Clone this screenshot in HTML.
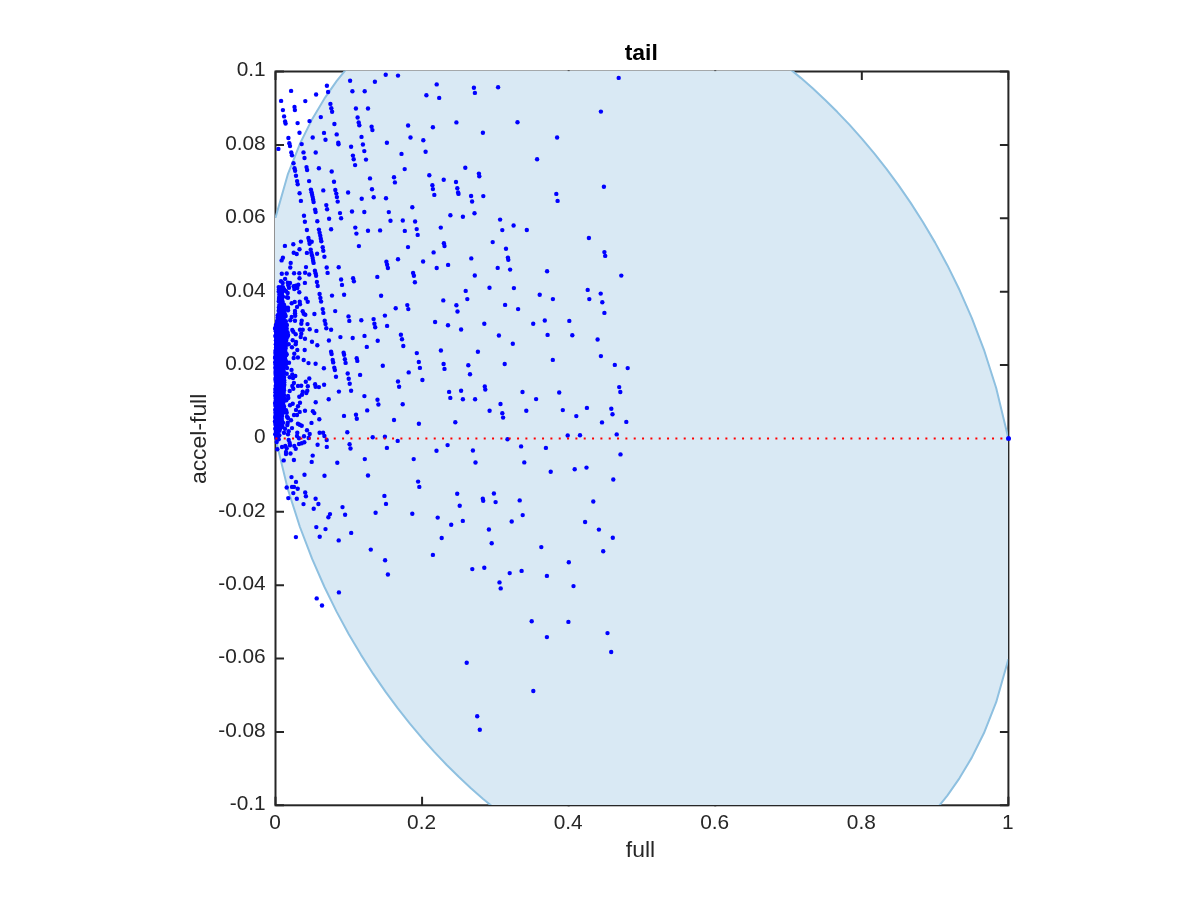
<!DOCTYPE html>
<html><head><meta charset="utf-8"><title>tail</title>
<style>
html,body{margin:0;padding:0;background:#fff;}
body{width:1200px;height:900px;overflow:hidden;}
svg{display:block;}
text{font-family:"Liberation Sans",sans-serif;fill:#262626;}
.tk{font-size:20.83px;}
.lb{font-size:22.92px;}
.tt{font-size:22.92px;font-weight:bold;fill:#000;}
</style></head><body>
<svg width="1200" height="900" viewBox="0 0 1200 900">
<defs><clipPath id="ax"><rect x="275.0" y="70.7" width="733.1" height="734.3"/></clipPath></defs>
<rect x="0" y="0" width="1200" height="900" fill="#ffffff"/>

<g stroke="#262626" stroke-width="2" fill="none">
<rect x="275.5" y="71.5" width="732.90" height="733.80"/>
<path d="M275.50 805.3 v-8.5 M275.50 71.5 v8.5"/>
<path d="M422.08 805.3 v-8.5 M422.08 71.5 v8.5"/>
<path d="M568.66 805.3 v-8.5 M568.66 71.5 v8.5"/>
<path d="M715.24 805.3 v-8.5 M715.24 71.5 v8.5"/>
<path d="M861.82 805.3 v-8.5 M861.82 71.5 v8.5"/>
<path d="M1008.40 805.3 v-8.5 M1008.40 71.5 v8.5"/>
<path d="M275.5 71.50 h8.5 M1008.4 71.50 h-8.5"/>
<path d="M275.5 144.88 h8.5 M1008.4 144.88 h-8.5"/>
<path d="M275.5 218.26 h8.5 M1008.4 218.26 h-8.5"/>
<path d="M275.5 291.64 h8.5 M1008.4 291.64 h-8.5"/>
<path d="M275.5 365.02 h8.5 M1008.4 365.02 h-8.5"/>
<path d="M275.5 438.40 h8.5 M1008.4 438.40 h-8.5"/>
<path d="M275.5 511.78 h8.5 M1008.4 511.78 h-8.5"/>
<path d="M275.5 585.16 h8.5 M1008.4 585.16 h-8.5"/>
<path d="M275.5 658.54 h8.5 M1008.4 658.54 h-8.5"/>
<path d="M275.5 731.92 h8.5 M1008.4 731.92 h-8.5"/>
<path d="M275.5 805.30 h8.5 M1008.4 805.30 h-8.5"/>
</g>
<g clip-path="url(#ax)">
<polygon points="275.00,217.62 275.50,217.62 287.71,174.65 299.93,143.76 312.14,119.17 324.36,98.69 336.57,81.19 348.79,66.01 361.00,52.70 373.22,40.97 385.44,30.60 397.65,21.41 409.87,13.29 422.08,6.12 434.29,-0.18 446.51,-5.67 458.73,-10.40 470.94,-14.44 483.15,-17.81 495.37,-20.55 507.58,-22.70 519.80,-24.26 532.01,-25.27 544.23,-25.75 556.44,-25.70 568.66,-25.15 580.88,-24.10 593.09,-22.55 605.31,-20.53 617.52,-18.03 629.74,-15.05 641.95,-11.61 654.16,-7.70 666.38,-3.31 678.60,1.55 690.81,6.88 703.03,12.70 715.24,19.01 727.45,25.81 739.67,33.12 751.88,40.96 764.10,49.33 776.32,58.26 788.53,67.76 800.75,77.86 812.96,88.59 825.17,99.99 837.39,112.08 849.61,124.93 861.82,138.58 874.03,153.11 886.25,168.60 898.46,185.14 910.68,202.88 922.89,221.96 935.11,242.63 947.32,265.17 959.54,290.03 971.75,317.87 983.97,349.81 996.18,388.07 1008.40,438.40 1008.10,438.40 1008.10,659.18 1008.40,659.18 996.18,702.15 983.97,733.04 971.75,757.63 959.54,778.11 947.32,795.61 935.11,810.79 922.89,824.10 910.68,835.83 898.46,846.20 886.25,855.39 874.03,863.51 861.82,870.68 849.61,876.98 837.39,882.47 825.17,887.20 812.96,891.24 800.75,894.61 788.53,897.35 776.32,899.50 764.10,901.06 751.88,902.07 739.67,902.55 727.45,902.50 715.24,901.95 703.03,900.90 690.81,899.35 678.60,897.33 666.38,894.83 654.16,891.85 641.95,888.41 629.74,884.50 617.52,880.11 605.31,875.25 593.09,869.92 580.88,864.10 568.66,857.79 556.44,850.99 544.23,843.68 532.01,835.84 519.80,827.47 507.58,818.54 495.37,809.04 483.15,798.94 470.94,788.21 458.73,776.81 446.51,764.72 434.29,751.87 422.08,738.22 409.87,723.69 397.65,708.20 385.44,691.66 373.22,673.92 361.00,654.84 348.79,634.17 336.57,611.63 324.36,586.77 312.14,558.93 299.93,526.99 287.71,488.73 275.50,438.40 275.00,438.40" fill="#d9e9f4"/>
<polyline points="275.50,217.62 287.71,174.65 299.93,143.76 312.14,119.17 324.36,98.69 336.57,81.19 348.79,66.01 361.00,52.70 373.22,40.97 385.44,30.60 397.65,21.41 409.87,13.29 422.08,6.12 434.29,-0.18 446.51,-5.67 458.73,-10.40 470.94,-14.44 483.15,-17.81 495.37,-20.55 507.58,-22.70 519.80,-24.26 532.01,-25.27 544.23,-25.75 556.44,-25.70 568.66,-25.15 580.88,-24.10 593.09,-22.55 605.31,-20.53 617.52,-18.03 629.74,-15.05 641.95,-11.61 654.16,-7.70 666.38,-3.31 678.60,1.55 690.81,6.88 703.03,12.70 715.24,19.01 727.45,25.81 739.67,33.12 751.88,40.96 764.10,49.33 776.32,58.26 788.53,67.76 800.75,77.86 812.96,88.59 825.17,99.99 837.39,112.08 849.61,124.93 861.82,138.58 874.03,153.11 886.25,168.60 898.46,185.14 910.68,202.88 922.89,221.96 935.11,242.63 947.32,265.17 959.54,290.03 971.75,317.87 983.97,349.81 996.18,388.07 1008.40,438.40" fill="none" stroke="#8ec0e0" stroke-width="2" stroke-linejoin="round"/>
<polyline points="275.50,438.40 287.71,488.73 299.93,526.99 312.14,558.93 324.36,586.77 336.57,611.63 348.79,634.17 361.00,654.84 373.22,673.92 385.44,691.66 397.65,708.20 409.87,723.69 422.08,738.22 434.29,751.87 446.51,764.72 458.73,776.81 470.94,788.21 483.15,798.94 495.37,809.04 507.58,818.54 519.80,827.47 532.01,835.84 544.23,843.68 556.44,850.99 568.66,857.79 580.88,864.10 593.09,869.92 605.31,875.25 617.52,880.11 629.74,884.50 641.95,888.41 654.16,891.85 666.38,894.83 678.60,897.33 690.81,899.35 703.03,900.90 715.24,901.95 727.45,902.50 739.67,902.55 751.88,902.07 764.10,901.06 776.32,899.50 788.53,897.35 800.75,894.61 812.96,891.24 825.17,887.20 837.39,882.47 849.61,876.98 861.82,870.68 874.03,863.51 886.25,855.39 898.46,846.20 910.68,835.83 922.89,824.10 935.11,810.79 947.32,795.61 959.54,778.11 971.75,757.63 983.97,733.04 996.18,702.15 1008.40,659.18" fill="none" stroke="#8ec0e0" stroke-width="2" stroke-linejoin="round"/>
</g>
<rect x="567.66" y="70.4" width="2" height="0.7" fill="#262626"/>
<rect x="567.66" y="805.1" width="2" height="1.2" fill="#262626"/>
<rect x="714.24" y="70.4" width="2" height="0.7" fill="#262626"/>
<rect x="714.24" y="805.1" width="2" height="1.2" fill="#262626"/>
<g fill="#0000ff">
<circle cx="385.7" cy="74.7" r="2.2"/>
<circle cx="398.0" cy="75.6" r="2.2"/>
<circle cx="350.1" cy="80.7" r="2.2"/>
<circle cx="374.9" cy="81.7" r="2.2"/>
<circle cx="326.9" cy="85.7" r="2.2"/>
<circle cx="291.1" cy="90.9" r="2.2"/>
<circle cx="328.1" cy="92.0" r="2.2"/>
<circle cx="352.4" cy="91.3" r="2.2"/>
<circle cx="364.7" cy="91.3" r="2.2"/>
<circle cx="316.1" cy="94.5" r="2.2"/>
<circle cx="426.4" cy="95.3" r="2.2"/>
<circle cx="281.1" cy="100.9" r="2.2"/>
<circle cx="305.3" cy="101.1" r="2.2"/>
<circle cx="330.4" cy="103.9" r="2.2"/>
<circle cx="294.5" cy="106.9" r="2.2"/>
<circle cx="282.9" cy="110.1" r="2.2"/>
<circle cx="294.9" cy="110.1" r="2.2"/>
<circle cx="331.3" cy="108.3" r="2.2"/>
<circle cx="332.1" cy="111.7" r="2.2"/>
<circle cx="355.9" cy="108.5" r="2.2"/>
<circle cx="368.0" cy="108.5" r="2.2"/>
<circle cx="284.1" cy="116.4" r="2.2"/>
<circle cx="320.8" cy="117.1" r="2.2"/>
<circle cx="357.6" cy="117.5" r="2.2"/>
<circle cx="285.1" cy="121.5" r="2.2"/>
<circle cx="285.6" cy="123.6" r="2.2"/>
<circle cx="297.6" cy="123.1" r="2.2"/>
<circle cx="309.5" cy="121.1" r="2.2"/>
<circle cx="334.4" cy="124.0" r="2.2"/>
<circle cx="358.7" cy="122.4" r="2.2"/>
<circle cx="359.3" cy="125.3" r="2.2"/>
<circle cx="371.6" cy="126.7" r="2.2"/>
<circle cx="372.4" cy="130.1" r="2.2"/>
<circle cx="408.1" cy="125.5" r="2.2"/>
<circle cx="299.5" cy="132.7" r="2.2"/>
<circle cx="324.0" cy="132.9" r="2.2"/>
<circle cx="336.7" cy="134.4" r="2.2"/>
<circle cx="288.4" cy="138.0" r="2.2"/>
<circle cx="312.7" cy="137.5" r="2.2"/>
<circle cx="325.5" cy="139.7" r="2.2"/>
<circle cx="361.5" cy="136.9" r="2.2"/>
<circle cx="410.5" cy="137.5" r="2.2"/>
<circle cx="423.3" cy="140.3" r="2.2"/>
<circle cx="289.3" cy="143.3" r="2.2"/>
<circle cx="290.0" cy="146.0" r="2.2"/>
<circle cx="301.7" cy="144.1" r="2.2"/>
<circle cx="338.3" cy="142.7" r="2.2"/>
<circle cx="338.5" cy="144.3" r="2.2"/>
<circle cx="386.9" cy="142.7" r="2.2"/>
<circle cx="362.9" cy="144.5" r="2.2"/>
<circle cx="351.1" cy="146.7" r="2.2"/>
<circle cx="278.4" cy="148.9" r="2.2"/>
<circle cx="291.3" cy="152.4" r="2.2"/>
<circle cx="292.0" cy="155.3" r="2.2"/>
<circle cx="303.5" cy="152.4" r="2.2"/>
<circle cx="315.7" cy="152.5" r="2.2"/>
<circle cx="364.3" cy="151.1" r="2.2"/>
<circle cx="425.6" cy="151.7" r="2.2"/>
<circle cx="401.5" cy="153.9" r="2.2"/>
<circle cx="304.5" cy="158.0" r="2.2"/>
<circle cx="352.9" cy="155.6" r="2.2"/>
<circle cx="353.7" cy="159.3" r="2.2"/>
<circle cx="366.0" cy="159.6" r="2.2"/>
<circle cx="293.5" cy="163.3" r="2.2"/>
<circle cx="355.1" cy="165.1" r="2.2"/>
<circle cx="294.5" cy="168.3" r="2.2"/>
<circle cx="295.1" cy="170.7" r="2.2"/>
<circle cx="306.5" cy="167.1" r="2.2"/>
<circle cx="307.1" cy="170.0" r="2.2"/>
<circle cx="318.9" cy="168.3" r="2.2"/>
<circle cx="331.7" cy="171.5" r="2.2"/>
<circle cx="404.7" cy="169.1" r="2.2"/>
<circle cx="296.0" cy="175.7" r="2.2"/>
<circle cx="394.0" cy="177.2" r="2.2"/>
<circle cx="370.0" cy="178.4" r="2.2"/>
<circle cx="429.3" cy="175.3" r="2.2"/>
<circle cx="436.7" cy="84.4" r="2.2"/>
<circle cx="473.9" cy="87.7" r="2.2"/>
<circle cx="498.1" cy="87.3" r="2.2"/>
<circle cx="474.9" cy="92.9" r="2.2"/>
<circle cx="439.2" cy="97.9" r="2.2"/>
<circle cx="456.4" cy="122.4" r="2.2"/>
<circle cx="517.5" cy="122.3" r="2.2"/>
<circle cx="432.9" cy="127.3" r="2.2"/>
<circle cx="482.9" cy="132.7" r="2.2"/>
<circle cx="557.1" cy="137.5" r="2.2"/>
<circle cx="537.1" cy="159.3" r="2.2"/>
<circle cx="465.3" cy="167.7" r="2.2"/>
<circle cx="478.9" cy="173.6" r="2.2"/>
<circle cx="479.3" cy="176.3" r="2.2"/>
<circle cx="443.7" cy="179.7" r="2.2"/>
<circle cx="618.7" cy="77.9" r="2.2"/>
<circle cx="600.9" cy="111.6" r="2.2"/>
<circle cx="297.1" cy="181.1" r="2.2"/>
<circle cx="297.7" cy="184.3" r="2.2"/>
<circle cx="309.1" cy="181.1" r="2.2"/>
<circle cx="334.0" cy="181.7" r="2.2"/>
<circle cx="394.9" cy="182.4" r="2.2"/>
<circle cx="310.9" cy="189.6" r="2.2"/>
<circle cx="311.6" cy="192.3" r="2.2"/>
<circle cx="312.1" cy="194.7" r="2.2"/>
<circle cx="312.7" cy="197.1" r="2.2"/>
<circle cx="313.1" cy="199.5" r="2.2"/>
<circle cx="313.6" cy="202.0" r="2.2"/>
<circle cx="323.3" cy="190.4" r="2.2"/>
<circle cx="335.3" cy="190.0" r="2.2"/>
<circle cx="336.3" cy="193.6" r="2.2"/>
<circle cx="336.9" cy="197.1" r="2.2"/>
<circle cx="337.7" cy="201.6" r="2.2"/>
<circle cx="348.1" cy="192.5" r="2.2"/>
<circle cx="372.0" cy="189.3" r="2.2"/>
<circle cx="299.6" cy="193.3" r="2.2"/>
<circle cx="300.9" cy="200.9" r="2.2"/>
<circle cx="361.7" cy="198.7" r="2.2"/>
<circle cx="373.7" cy="197.3" r="2.2"/>
<circle cx="386.0" cy="198.3" r="2.2"/>
<circle cx="326.3" cy="205.1" r="2.2"/>
<circle cx="327.1" cy="209.3" r="2.2"/>
<circle cx="315.1" cy="209.6" r="2.2"/>
<circle cx="315.6" cy="212.0" r="2.2"/>
<circle cx="412.3" cy="207.3" r="2.2"/>
<circle cx="352.0" cy="211.5" r="2.2"/>
<circle cx="364.3" cy="212.0" r="2.2"/>
<circle cx="388.8" cy="212.1" r="2.2"/>
<circle cx="340.0" cy="213.1" r="2.2"/>
<circle cx="341.1" cy="218.3" r="2.2"/>
<circle cx="329.1" cy="218.7" r="2.2"/>
<circle cx="304.0" cy="215.7" r="2.2"/>
<circle cx="304.9" cy="221.7" r="2.2"/>
<circle cx="317.3" cy="221.2" r="2.2"/>
<circle cx="390.5" cy="220.7" r="2.2"/>
<circle cx="402.8" cy="220.5" r="2.2"/>
<circle cx="415.1" cy="221.5" r="2.2"/>
<circle cx="306.9" cy="230.0" r="2.2"/>
<circle cx="318.9" cy="229.6" r="2.2"/>
<circle cx="319.6" cy="232.7" r="2.2"/>
<circle cx="320.3" cy="235.7" r="2.2"/>
<circle cx="320.8" cy="238.7" r="2.2"/>
<circle cx="321.3" cy="241.3" r="2.2"/>
<circle cx="331.1" cy="229.3" r="2.2"/>
<circle cx="355.3" cy="227.6" r="2.2"/>
<circle cx="356.4" cy="233.6" r="2.2"/>
<circle cx="368.0" cy="230.7" r="2.2"/>
<circle cx="380.1" cy="230.4" r="2.2"/>
<circle cx="404.8" cy="230.9" r="2.2"/>
<circle cx="416.7" cy="229.1" r="2.2"/>
<circle cx="417.7" cy="234.9" r="2.2"/>
<circle cx="308.4" cy="238.0" r="2.2"/>
<circle cx="309.1" cy="240.7" r="2.2"/>
<circle cx="311.7" cy="241.7" r="2.2"/>
<circle cx="309.6" cy="243.7" r="2.2"/>
<circle cx="300.9" cy="241.6" r="2.2"/>
<circle cx="293.3" cy="244.3" r="2.2"/>
<circle cx="284.9" cy="245.9" r="2.2"/>
<circle cx="358.9" cy="246.1" r="2.2"/>
<circle cx="408.0" cy="247.1" r="2.2"/>
<circle cx="322.7" cy="247.3" r="2.2"/>
<circle cx="323.3" cy="250.7" r="2.2"/>
<circle cx="299.5" cy="249.3" r="2.2"/>
<circle cx="293.7" cy="252.7" r="2.2"/>
<circle cx="296.7" cy="254.0" r="2.2"/>
<circle cx="306.9" cy="252.9" r="2.2"/>
<circle cx="317.1" cy="253.7" r="2.2"/>
<circle cx="324.4" cy="256.7" r="2.2"/>
<circle cx="310.7" cy="249.6" r="2.2"/>
<circle cx="311.3" cy="252.7" r="2.2"/>
<circle cx="312.0" cy="255.3" r="2.2"/>
<circle cx="312.7" cy="258.0" r="2.2"/>
<circle cx="313.1" cy="260.7" r="2.2"/>
<circle cx="313.6" cy="262.9" r="2.2"/>
<circle cx="282.9" cy="257.7" r="2.2"/>
<circle cx="281.6" cy="260.4" r="2.2"/>
<circle cx="290.7" cy="262.9" r="2.2"/>
<circle cx="290.3" cy="267.5" r="2.2"/>
<circle cx="306.0" cy="267.1" r="2.2"/>
<circle cx="326.7" cy="267.5" r="2.2"/>
<circle cx="338.7" cy="267.3" r="2.2"/>
<circle cx="398.0" cy="259.3" r="2.2"/>
<circle cx="423.1" cy="261.5" r="2.2"/>
<circle cx="386.4" cy="261.7" r="2.2"/>
<circle cx="387.1" cy="264.7" r="2.2"/>
<circle cx="387.9" cy="268.0" r="2.2"/>
<circle cx="413.1" cy="272.9" r="2.2"/>
<circle cx="413.9" cy="275.7" r="2.2"/>
<circle cx="377.3" cy="276.9" r="2.2"/>
<circle cx="353.1" cy="278.3" r="2.2"/>
<circle cx="353.9" cy="281.3" r="2.2"/>
<circle cx="414.9" cy="282.3" r="2.2"/>
<circle cx="381.1" cy="295.7" r="2.2"/>
<circle cx="456.0" cy="182.0" r="2.2"/>
<circle cx="432.4" cy="185.3" r="2.2"/>
<circle cx="432.9" cy="189.1" r="2.2"/>
<circle cx="434.3" cy="194.9" r="2.2"/>
<circle cx="457.3" cy="188.3" r="2.2"/>
<circle cx="458.1" cy="192.5" r="2.2"/>
<circle cx="458.5" cy="193.9" r="2.2"/>
<circle cx="471.1" cy="196.0" r="2.2"/>
<circle cx="483.3" cy="196.1" r="2.2"/>
<circle cx="472.1" cy="201.5" r="2.2"/>
<circle cx="556.3" cy="193.9" r="2.2"/>
<circle cx="557.6" cy="200.9" r="2.2"/>
<circle cx="450.4" cy="215.3" r="2.2"/>
<circle cx="462.9" cy="216.7" r="2.2"/>
<circle cx="474.5" cy="213.3" r="2.2"/>
<circle cx="500.1" cy="219.6" r="2.2"/>
<circle cx="513.6" cy="225.5" r="2.2"/>
<circle cx="440.8" cy="227.6" r="2.2"/>
<circle cx="502.3" cy="230.1" r="2.2"/>
<circle cx="526.8" cy="230.0" r="2.2"/>
<circle cx="588.9" cy="238.0" r="2.2"/>
<circle cx="492.7" cy="242.1" r="2.2"/>
<circle cx="443.9" cy="243.3" r="2.2"/>
<circle cx="444.5" cy="246.0" r="2.2"/>
<circle cx="506.0" cy="248.8" r="2.2"/>
<circle cx="433.6" cy="252.4" r="2.2"/>
<circle cx="471.3" cy="258.4" r="2.2"/>
<circle cx="507.9" cy="257.6" r="2.2"/>
<circle cx="508.3" cy="259.7" r="2.2"/>
<circle cx="448.1" cy="264.9" r="2.2"/>
<circle cx="436.7" cy="268.0" r="2.2"/>
<circle cx="497.7" cy="267.9" r="2.2"/>
<circle cx="510.1" cy="269.6" r="2.2"/>
<circle cx="547.1" cy="271.2" r="2.2"/>
<circle cx="474.8" cy="275.5" r="2.2"/>
<circle cx="489.5" cy="287.7" r="2.2"/>
<circle cx="513.9" cy="288.1" r="2.2"/>
<circle cx="465.7" cy="290.9" r="2.2"/>
<circle cx="587.7" cy="289.9" r="2.2"/>
<circle cx="539.7" cy="294.8" r="2.2"/>
<circle cx="443.3" cy="300.4" r="2.2"/>
<circle cx="467.3" cy="299.1" r="2.2"/>
<circle cx="552.9" cy="299.1" r="2.2"/>
<circle cx="589.3" cy="299.1" r="2.2"/>
<circle cx="603.9" cy="186.7" r="2.2"/>
<circle cx="604.4" cy="252.1" r="2.2"/>
<circle cx="605.2" cy="255.9" r="2.2"/>
<circle cx="621.3" cy="275.6" r="2.2"/>
<circle cx="600.7" cy="293.6" r="2.2"/>
<circle cx="456.4" cy="305.3" r="2.2"/>
<circle cx="457.5" cy="311.5" r="2.2"/>
<circle cx="505.1" cy="304.9" r="2.2"/>
<circle cx="518.1" cy="309.1" r="2.2"/>
<circle cx="435.1" cy="322.0" r="2.2"/>
<circle cx="448.0" cy="325.2" r="2.2"/>
<circle cx="461.1" cy="329.5" r="2.2"/>
<circle cx="484.3" cy="323.7" r="2.2"/>
<circle cx="533.2" cy="323.7" r="2.2"/>
<circle cx="544.8" cy="320.5" r="2.2"/>
<circle cx="569.3" cy="320.9" r="2.2"/>
<circle cx="498.9" cy="335.5" r="2.2"/>
<circle cx="547.6" cy="334.9" r="2.2"/>
<circle cx="572.3" cy="335.2" r="2.2"/>
<circle cx="512.8" cy="343.7" r="2.2"/>
<circle cx="440.9" cy="350.5" r="2.2"/>
<circle cx="477.9" cy="351.7" r="2.2"/>
<circle cx="552.8" cy="359.9" r="2.2"/>
<circle cx="443.6" cy="364.0" r="2.2"/>
<circle cx="444.5" cy="368.9" r="2.2"/>
<circle cx="468.3" cy="365.3" r="2.2"/>
<circle cx="504.7" cy="364.0" r="2.2"/>
<circle cx="470.0" cy="374.3" r="2.2"/>
<circle cx="484.8" cy="386.4" r="2.2"/>
<circle cx="485.3" cy="389.6" r="2.2"/>
<circle cx="449.1" cy="391.9" r="2.2"/>
<circle cx="461.1" cy="390.8" r="2.2"/>
<circle cx="522.5" cy="392.0" r="2.2"/>
<circle cx="559.2" cy="392.5" r="2.2"/>
<circle cx="450.3" cy="397.9" r="2.2"/>
<circle cx="462.9" cy="399.2" r="2.2"/>
<circle cx="475.1" cy="399.3" r="2.2"/>
<circle cx="536.1" cy="399.1" r="2.2"/>
<circle cx="500.5" cy="404.0" r="2.2"/>
<circle cx="489.6" cy="410.7" r="2.2"/>
<circle cx="526.3" cy="410.8" r="2.2"/>
<circle cx="562.8" cy="410.1" r="2.2"/>
<circle cx="586.9" cy="407.9" r="2.2"/>
<circle cx="502.3" cy="413.3" r="2.2"/>
<circle cx="503.1" cy="417.6" r="2.2"/>
<circle cx="576.3" cy="416.1" r="2.2"/>
<circle cx="602.3" cy="302.3" r="2.2"/>
<circle cx="604.4" cy="312.9" r="2.2"/>
<circle cx="597.6" cy="339.5" r="2.2"/>
<circle cx="600.9" cy="356.1" r="2.2"/>
<circle cx="614.8" cy="364.9" r="2.2"/>
<circle cx="627.7" cy="368.1" r="2.2"/>
<circle cx="619.2" cy="387.1" r="2.2"/>
<circle cx="620.3" cy="392.0" r="2.2"/>
<circle cx="611.3" cy="408.7" r="2.2"/>
<circle cx="612.5" cy="414.3" r="2.2"/>
<circle cx="314.9" cy="270.7" r="2.2"/>
<circle cx="315.6" cy="273.3" r="2.2"/>
<circle cx="316.1" cy="275.7" r="2.2"/>
<circle cx="327.6" cy="272.9" r="2.2"/>
<circle cx="341.1" cy="279.5" r="2.2"/>
<circle cx="342.0" cy="284.9" r="2.2"/>
<circle cx="316.9" cy="282.0" r="2.2"/>
<circle cx="317.7" cy="286.0" r="2.2"/>
<circle cx="319.6" cy="294.0" r="2.2"/>
<circle cx="320.4" cy="298.0" r="2.2"/>
<circle cx="332.0" cy="295.6" r="2.2"/>
<circle cx="344.1" cy="294.8" r="2.2"/>
<circle cx="321.1" cy="301.6" r="2.2"/>
<circle cx="322.7" cy="309.1" r="2.2"/>
<circle cx="323.3" cy="312.9" r="2.2"/>
<circle cx="314.4" cy="314.0" r="2.2"/>
<circle cx="335.2" cy="311.1" r="2.2"/>
<circle cx="395.7" cy="308.3" r="2.2"/>
<circle cx="407.3" cy="305.1" r="2.2"/>
<circle cx="408.3" cy="309.1" r="2.2"/>
<circle cx="384.9" cy="315.6" r="2.2"/>
<circle cx="348.5" cy="316.4" r="2.2"/>
<circle cx="349.3" cy="320.9" r="2.2"/>
<circle cx="361.3" cy="320.3" r="2.2"/>
<circle cx="373.6" cy="319.1" r="2.2"/>
<circle cx="374.4" cy="323.7" r="2.2"/>
<circle cx="375.2" cy="327.2" r="2.2"/>
<circle cx="387.1" cy="325.9" r="2.2"/>
<circle cx="324.7" cy="320.7" r="2.2"/>
<circle cx="325.5" cy="324.0" r="2.2"/>
<circle cx="326.3" cy="328.3" r="2.2"/>
<circle cx="331.1" cy="329.7" r="2.2"/>
<circle cx="316.4" cy="330.9" r="2.2"/>
<circle cx="400.9" cy="334.7" r="2.2"/>
<circle cx="402.0" cy="339.3" r="2.2"/>
<circle cx="403.3" cy="346.0" r="2.2"/>
<circle cx="340.4" cy="337.1" r="2.2"/>
<circle cx="352.7" cy="338.0" r="2.2"/>
<circle cx="364.5" cy="335.9" r="2.2"/>
<circle cx="377.7" cy="340.7" r="2.2"/>
<circle cx="328.9" cy="340.5" r="2.2"/>
<circle cx="312.0" cy="341.7" r="2.2"/>
<circle cx="317.3" cy="345.3" r="2.2"/>
<circle cx="366.8" cy="346.9" r="2.2"/>
<circle cx="416.8" cy="353.1" r="2.2"/>
<circle cx="331.1" cy="351.7" r="2.2"/>
<circle cx="331.6" cy="354.0" r="2.2"/>
<circle cx="343.6" cy="352.7" r="2.2"/>
<circle cx="344.1" cy="354.7" r="2.2"/>
<circle cx="332.7" cy="360.0" r="2.2"/>
<circle cx="333.2" cy="362.4" r="2.2"/>
<circle cx="344.9" cy="359.3" r="2.2"/>
<circle cx="345.6" cy="362.9" r="2.2"/>
<circle cx="356.7" cy="358.3" r="2.2"/>
<circle cx="357.3" cy="360.9" r="2.2"/>
<circle cx="418.8" cy="362.0" r="2.2"/>
<circle cx="419.9" cy="367.9" r="2.2"/>
<circle cx="382.8" cy="365.7" r="2.2"/>
<circle cx="315.6" cy="363.7" r="2.2"/>
<circle cx="323.9" cy="368.3" r="2.2"/>
<circle cx="334.3" cy="367.7" r="2.2"/>
<circle cx="334.9" cy="370.1" r="2.2"/>
<circle cx="408.7" cy="372.4" r="2.2"/>
<circle cx="347.7" cy="373.5" r="2.2"/>
<circle cx="360.1" cy="374.9" r="2.2"/>
<circle cx="336.0" cy="376.7" r="2.2"/>
<circle cx="348.7" cy="378.7" r="2.2"/>
<circle cx="422.4" cy="380.0" r="2.2"/>
<circle cx="398.0" cy="381.5" r="2.2"/>
<circle cx="399.1" cy="386.8" r="2.2"/>
<circle cx="349.7" cy="383.7" r="2.2"/>
<circle cx="324.1" cy="384.8" r="2.2"/>
<circle cx="315.1" cy="384.3" r="2.2"/>
<circle cx="315.6" cy="386.7" r="2.2"/>
<circle cx="318.9" cy="387.1" r="2.2"/>
<circle cx="338.9" cy="391.6" r="2.2"/>
<circle cx="351.1" cy="390.8" r="2.2"/>
<circle cx="364.4" cy="396.1" r="2.2"/>
<circle cx="328.7" cy="399.2" r="2.2"/>
<circle cx="315.7" cy="402.3" r="2.2"/>
<circle cx="377.5" cy="399.7" r="2.2"/>
<circle cx="378.4" cy="404.5" r="2.2"/>
<circle cx="402.7" cy="404.3" r="2.2"/>
<circle cx="367.2" cy="410.4" r="2.2"/>
<circle cx="312.9" cy="411.3" r="2.2"/>
<circle cx="314.3" cy="413.1" r="2.2"/>
<circle cx="344.0" cy="415.9" r="2.2"/>
<circle cx="356.0" cy="414.7" r="2.2"/>
<circle cx="356.8" cy="418.7" r="2.2"/>
<circle cx="319.3" cy="419.3" r="2.2"/>
<circle cx="394.0" cy="420.0" r="2.2"/>
<circle cx="312.7" cy="455.6" r="2.2"/>
<circle cx="283.7" cy="460.4" r="2.2"/>
<circle cx="293.9" cy="460.0" r="2.2"/>
<circle cx="311.7" cy="461.9" r="2.2"/>
<circle cx="337.3" cy="462.8" r="2.2"/>
<circle cx="364.8" cy="459.1" r="2.2"/>
<circle cx="413.7" cy="459.1" r="2.2"/>
<circle cx="291.5" cy="477.1" r="2.2"/>
<circle cx="304.5" cy="474.8" r="2.2"/>
<circle cx="324.5" cy="475.7" r="2.2"/>
<circle cx="368.0" cy="475.5" r="2.2"/>
<circle cx="296.0" cy="481.9" r="2.2"/>
<circle cx="418.1" cy="481.6" r="2.2"/>
<circle cx="419.3" cy="486.9" r="2.2"/>
<circle cx="286.7" cy="487.5" r="2.2"/>
<circle cx="292.0" cy="486.9" r="2.2"/>
<circle cx="294.0" cy="486.9" r="2.2"/>
<circle cx="297.7" cy="488.8" r="2.2"/>
<circle cx="293.3" cy="493.1" r="2.2"/>
<circle cx="305.2" cy="492.4" r="2.2"/>
<circle cx="305.9" cy="496.3" r="2.2"/>
<circle cx="288.3" cy="498.1" r="2.2"/>
<circle cx="296.8" cy="498.7" r="2.2"/>
<circle cx="315.6" cy="498.8" r="2.2"/>
<circle cx="384.4" cy="495.9" r="2.2"/>
<circle cx="303.5" cy="504.1" r="2.2"/>
<circle cx="318.4" cy="504.0" r="2.2"/>
<circle cx="386.0" cy="503.9" r="2.2"/>
<circle cx="313.7" cy="508.8" r="2.2"/>
<circle cx="342.5" cy="507.1" r="2.2"/>
<circle cx="330.0" cy="514.1" r="2.2"/>
<circle cx="328.4" cy="517.2" r="2.2"/>
<circle cx="345.1" cy="514.7" r="2.2"/>
<circle cx="375.6" cy="512.8" r="2.2"/>
<circle cx="412.3" cy="513.7" r="2.2"/>
<circle cx="316.3" cy="527.1" r="2.2"/>
<circle cx="325.5" cy="529.1" r="2.2"/>
<circle cx="351.2" cy="532.9" r="2.2"/>
<circle cx="295.9" cy="537.1" r="2.2"/>
<circle cx="319.7" cy="536.7" r="2.2"/>
<circle cx="338.7" cy="540.4" r="2.2"/>
<circle cx="311.5" cy="422.9" r="2.2"/>
<circle cx="418.9" cy="423.7" r="2.2"/>
<circle cx="319.6" cy="432.7" r="2.2"/>
<circle cx="323.1" cy="432.7" r="2.2"/>
<circle cx="324.4" cy="436.0" r="2.2"/>
<circle cx="326.7" cy="440.0" r="2.2"/>
<circle cx="347.3" cy="432.3" r="2.2"/>
<circle cx="372.7" cy="437.3" r="2.2"/>
<circle cx="384.9" cy="436.7" r="2.2"/>
<circle cx="397.7" cy="440.9" r="2.2"/>
<circle cx="317.6" cy="444.7" r="2.2"/>
<circle cx="326.8" cy="446.9" r="2.2"/>
<circle cx="349.6" cy="444.3" r="2.2"/>
<circle cx="350.5" cy="448.5" r="2.2"/>
<circle cx="386.9" cy="447.9" r="2.2"/>
<circle cx="455.3" cy="422.3" r="2.2"/>
<circle cx="567.7" cy="435.5" r="2.2"/>
<circle cx="580.0" cy="435.2" r="2.2"/>
<circle cx="507.5" cy="439.2" r="2.2"/>
<circle cx="447.6" cy="445.1" r="2.2"/>
<circle cx="521.1" cy="446.4" r="2.2"/>
<circle cx="545.9" cy="447.9" r="2.2"/>
<circle cx="436.5" cy="450.7" r="2.2"/>
<circle cx="472.9" cy="450.5" r="2.2"/>
<circle cx="475.5" cy="462.5" r="2.2"/>
<circle cx="524.3" cy="462.4" r="2.2"/>
<circle cx="574.7" cy="469.3" r="2.2"/>
<circle cx="586.5" cy="467.6" r="2.2"/>
<circle cx="550.7" cy="471.7" r="2.2"/>
<circle cx="457.2" cy="493.7" r="2.2"/>
<circle cx="493.9" cy="493.5" r="2.2"/>
<circle cx="482.8" cy="498.7" r="2.2"/>
<circle cx="483.2" cy="500.8" r="2.2"/>
<circle cx="495.6" cy="502.1" r="2.2"/>
<circle cx="519.7" cy="500.4" r="2.2"/>
<circle cx="459.7" cy="505.7" r="2.2"/>
<circle cx="522.7" cy="515.1" r="2.2"/>
<circle cx="437.7" cy="517.6" r="2.2"/>
<circle cx="462.8" cy="520.9" r="2.2"/>
<circle cx="511.7" cy="521.5" r="2.2"/>
<circle cx="585.1" cy="522.0" r="2.2"/>
<circle cx="451.2" cy="524.7" r="2.2"/>
<circle cx="488.9" cy="529.5" r="2.2"/>
<circle cx="441.7" cy="538.0" r="2.2"/>
<circle cx="602.0" cy="422.4" r="2.2"/>
<circle cx="626.3" cy="421.9" r="2.2"/>
<circle cx="616.7" cy="434.4" r="2.2"/>
<circle cx="620.5" cy="454.4" r="2.2"/>
<circle cx="613.3" cy="479.5" r="2.2"/>
<circle cx="593.3" cy="501.5" r="2.2"/>
<circle cx="598.9" cy="529.6" r="2.2"/>
<circle cx="612.8" cy="537.7" r="2.2"/>
<circle cx="370.8" cy="549.6" r="2.2"/>
<circle cx="385.1" cy="560.3" r="2.2"/>
<circle cx="387.9" cy="574.5" r="2.2"/>
<circle cx="338.9" cy="592.4" r="2.2"/>
<circle cx="316.7" cy="598.4" r="2.2"/>
<circle cx="322.0" cy="605.5" r="2.2"/>
<circle cx="491.7" cy="543.3" r="2.2"/>
<circle cx="541.3" cy="547.1" r="2.2"/>
<circle cx="432.9" cy="554.9" r="2.2"/>
<circle cx="568.8" cy="562.3" r="2.2"/>
<circle cx="472.3" cy="569.1" r="2.2"/>
<circle cx="484.3" cy="567.7" r="2.2"/>
<circle cx="509.7" cy="573.1" r="2.2"/>
<circle cx="521.6" cy="570.9" r="2.2"/>
<circle cx="546.9" cy="575.9" r="2.2"/>
<circle cx="499.5" cy="582.4" r="2.2"/>
<circle cx="500.7" cy="588.4" r="2.2"/>
<circle cx="573.5" cy="586.1" r="2.2"/>
<circle cx="531.7" cy="621.2" r="2.2"/>
<circle cx="568.4" cy="621.9" r="2.2"/>
<circle cx="546.9" cy="637.1" r="2.2"/>
<circle cx="603.2" cy="551.2" r="2.2"/>
<circle cx="607.5" cy="633.1" r="2.2"/>
<circle cx="611.2" cy="652.0" r="2.2"/>
<circle cx="466.7" cy="662.7" r="2.2"/>
<circle cx="533.3" cy="691.0" r="2.2"/>
<circle cx="477.2" cy="716.3" r="2.2"/>
<circle cx="479.8" cy="729.7" r="2.2"/>
<circle cx="281.8" cy="273.7" r="2.2"/>
<circle cx="286.7" cy="273.5" r="2.2"/>
<circle cx="294.1" cy="273.3" r="2.2"/>
<circle cx="299.3" cy="273.3" r="2.2"/>
<circle cx="305.1" cy="272.7" r="2.2"/>
<circle cx="309.2" cy="274.5" r="2.2"/>
<circle cx="285.1" cy="278.9" r="2.2"/>
<circle cx="299.5" cy="278.2" r="2.2"/>
<circle cx="304.9" cy="282.9" r="2.2"/>
<circle cx="281.0" cy="281.3" r="2.2"/>
<circle cx="282.7" cy="283.0" r="2.2"/>
<circle cx="287.7" cy="282.7" r="2.2"/>
<circle cx="290.0" cy="283.0" r="2.2"/>
<circle cx="288.3" cy="285.3" r="2.2"/>
<circle cx="289.0" cy="287.7" r="2.2"/>
<circle cx="293.7" cy="286.3" r="2.2"/>
<circle cx="295.7" cy="285.7" r="2.2"/>
<circle cx="298.3" cy="284.7" r="2.2"/>
<circle cx="294.3" cy="289.0" r="2.2"/>
<circle cx="297.3" cy="288.0" r="2.2"/>
<circle cx="299.3" cy="292.3" r="2.2"/>
<circle cx="279.0" cy="289.3" r="2.2"/>
<circle cx="281.0" cy="288.0" r="2.2"/>
<circle cx="283.0" cy="287.3" r="2.2"/>
<circle cx="284.3" cy="289.7" r="2.2"/>
<circle cx="281.3" cy="291.3" r="2.2"/>
<circle cx="286.0" cy="291.3" r="2.2"/>
<circle cx="287.7" cy="293.0" r="2.2"/>
<circle cx="281.7" cy="294.3" r="2.2"/>
<circle cx="279.7" cy="296.3" r="2.2"/>
<circle cx="283.0" cy="296.7" r="2.2"/>
<circle cx="287.0" cy="297.3" r="2.2"/>
<circle cx="288.0" cy="297.7" r="2.2"/>
<circle cx="279.0" cy="299.0" r="2.2"/>
<circle cx="282.0" cy="300.0" r="2.2"/>
<circle cx="306.0" cy="298.5" r="2.2"/>
<circle cx="307.7" cy="301.7" r="2.2"/>
<circle cx="294.7" cy="301.9" r="2.2"/>
<circle cx="291.7" cy="303.3" r="2.2"/>
<circle cx="299.7" cy="301.7" r="2.2"/>
<circle cx="300.0" cy="304.3" r="2.2"/>
<circle cx="297.0" cy="306.9" r="2.2"/>
<circle cx="282.7" cy="302.0" r="2.2"/>
<circle cx="280.7" cy="304.7" r="2.2"/>
<circle cx="284.0" cy="304.7" r="2.2"/>
<circle cx="285.0" cy="307.3" r="2.2"/>
<circle cx="288.0" cy="307.7" r="2.2"/>
<circle cx="279.3" cy="308.3" r="2.2"/>
<circle cx="282.3" cy="309.3" r="2.2"/>
<circle cx="288.0" cy="310.3" r="2.2"/>
<circle cx="278.7" cy="310.7" r="2.2"/>
<circle cx="283.7" cy="311.7" r="2.2"/>
<circle cx="280.7" cy="313.3" r="2.2"/>
<circle cx="295.0" cy="311.0" r="2.2"/>
<circle cx="295.0" cy="313.3" r="2.2"/>
<circle cx="295.2" cy="315.7" r="2.2"/>
<circle cx="302.7" cy="311.3" r="2.2"/>
<circle cx="303.7" cy="313.7" r="2.2"/>
<circle cx="305.3" cy="314.8" r="2.2"/>
<circle cx="291.7" cy="317.0" r="2.2"/>
<circle cx="290.3" cy="320.3" r="2.2"/>
<circle cx="295.0" cy="320.7" r="2.2"/>
<circle cx="301.7" cy="320.7" r="2.2"/>
<circle cx="301.3" cy="323.7" r="2.2"/>
<circle cx="307.5" cy="324.1" r="2.2"/>
<circle cx="277.7" cy="315.3" r="2.2"/>
<circle cx="280.7" cy="316.0" r="2.2"/>
<circle cx="285.7" cy="316.0" r="2.2"/>
<circle cx="278.3" cy="318.7" r="2.2"/>
<circle cx="282.7" cy="319.3" r="2.2"/>
<circle cx="279.3" cy="322.0" r="2.2"/>
<circle cx="284.3" cy="322.7" r="2.2"/>
<circle cx="286.7" cy="325.3" r="2.2"/>
<circle cx="277.3" cy="324.7" r="2.2"/>
<circle cx="281.3" cy="325.3" r="2.2"/>
<circle cx="275.3" cy="328.0" r="2.2"/>
<circle cx="278.7" cy="328.0" r="2.2"/>
<circle cx="282.7" cy="328.7" r="2.2"/>
<circle cx="286.7" cy="328.7" r="2.2"/>
<circle cx="292.3" cy="330.0" r="2.2"/>
<circle cx="300.0" cy="329.7" r="2.2"/>
<circle cx="302.7" cy="329.7" r="2.2"/>
<circle cx="309.7" cy="329.3" r="2.2"/>
<circle cx="295.7" cy="334.3" r="2.2"/>
<circle cx="301.3" cy="333.7" r="2.2"/>
<circle cx="300.7" cy="337.0" r="2.2"/>
<circle cx="293.3" cy="331.7" r="2.2"/>
<circle cx="305.0" cy="338.7" r="2.2"/>
<circle cx="292.7" cy="340.3" r="2.2"/>
<circle cx="296.0" cy="342.0" r="2.2"/>
<circle cx="295.7" cy="344.3" r="2.2"/>
<circle cx="292.0" cy="347.3" r="2.2"/>
<circle cx="288.7" cy="344.3" r="2.2"/>
<circle cx="286.7" cy="338.0" r="2.2"/>
<circle cx="304.7" cy="350.0" r="2.2"/>
<circle cx="297.3" cy="350.0" r="2.2"/>
<circle cx="294.3" cy="353.7" r="2.2"/>
<circle cx="293.7" cy="358.0" r="2.2"/>
<circle cx="297.9" cy="357.5" r="2.2"/>
<circle cx="303.7" cy="360.0" r="2.2"/>
<circle cx="308.5" cy="363.1" r="2.2"/>
<circle cx="286.7" cy="354.3" r="2.2"/>
<circle cx="285.0" cy="351.0" r="2.2"/>
<circle cx="289.0" cy="362.7" r="2.2"/>
<circle cx="287.0" cy="368.0" r="2.2"/>
<circle cx="291.5" cy="369.9" r="2.2"/>
<circle cx="286.7" cy="373.7" r="2.2"/>
<circle cx="292.3" cy="374.5" r="2.2"/>
<circle cx="295.3" cy="376.0" r="2.2"/>
<circle cx="289.7" cy="377.3" r="2.2"/>
<circle cx="293.0" cy="378.0" r="2.2"/>
<circle cx="309.3" cy="378.5" r="2.2"/>
<circle cx="305.8" cy="381.7" r="2.2"/>
<circle cx="293.9" cy="383.0" r="2.2"/>
<circle cx="292.3" cy="386.0" r="2.2"/>
<circle cx="298.0" cy="385.9" r="2.2"/>
<circle cx="301.2" cy="385.7" r="2.2"/>
<circle cx="307.8" cy="386.3" r="2.2"/>
<circle cx="293.3" cy="388.7" r="2.2"/>
<circle cx="289.7" cy="391.0" r="2.2"/>
<circle cx="288.0" cy="396.0" r="2.2"/>
<circle cx="288.3" cy="398.0" r="2.2"/>
<circle cx="286.3" cy="400.3" r="2.2"/>
<circle cx="299.3" cy="396.7" r="2.2"/>
<circle cx="302.0" cy="394.7" r="2.2"/>
<circle cx="302.7" cy="391.7" r="2.2"/>
<circle cx="306.3" cy="393.0" r="2.2"/>
<circle cx="307.3" cy="390.7" r="2.2"/>
<circle cx="300.0" cy="402.7" r="2.2"/>
<circle cx="292.7" cy="403.7" r="2.2"/>
<circle cx="290.0" cy="405.3" r="2.2"/>
<circle cx="298.0" cy="406.3" r="2.2"/>
<circle cx="296.0" cy="409.9" r="2.2"/>
<circle cx="299.7" cy="411.9" r="2.2"/>
<circle cx="305.0" cy="410.7" r="2.2"/>
<circle cx="286.0" cy="410.3" r="2.2"/>
<circle cx="286.7" cy="412.7" r="2.2"/>
<circle cx="294.0" cy="415.0" r="2.2"/>
<circle cx="297.0" cy="415.0" r="2.2"/>
<circle cx="287.0" cy="416.7" r="2.2"/>
<circle cx="288.0" cy="418.0" r="2.2"/>
<circle cx="291.0" cy="420.3" r="2.2"/>
<circle cx="282.0" cy="416.0" r="2.2"/>
<circle cx="283.0" cy="422.7" r="2.2"/>
<circle cx="287.7" cy="422.7" r="2.2"/>
<circle cx="287.3" cy="425.0" r="2.2"/>
<circle cx="297.9" cy="423.7" r="2.2"/>
<circle cx="299.7" cy="424.7" r="2.2"/>
<circle cx="301.7" cy="425.7" r="2.2"/>
<circle cx="292.0" cy="428.1" r="2.2"/>
<circle cx="307.0" cy="430.3" r="2.2"/>
<circle cx="309.7" cy="434.0" r="2.2"/>
<circle cx="282.3" cy="426.7" r="2.2"/>
<circle cx="285.0" cy="428.7" r="2.2"/>
<circle cx="288.7" cy="431.3" r="2.2"/>
<circle cx="284.0" cy="432.7" r="2.2"/>
<circle cx="288.0" cy="434.3" r="2.2"/>
<circle cx="297.3" cy="432.7" r="2.2"/>
<circle cx="297.0" cy="436.0" r="2.2"/>
<circle cx="304.0" cy="436.3" r="2.2"/>
<circle cx="299.0" cy="438.3" r="2.2"/>
<circle cx="308.7" cy="438.0" r="2.2"/>
<circle cx="278.7" cy="430.0" r="2.2"/>
<circle cx="277.0" cy="433.3" r="2.2"/>
<circle cx="279.3" cy="435.3" r="2.2"/>
<circle cx="276.3" cy="438.0" r="2.2"/>
<circle cx="278.7" cy="439.3" r="2.2"/>
<circle cx="276.7" cy="442.0" r="2.2"/>
<circle cx="288.7" cy="440.0" r="2.2"/>
<circle cx="289.7" cy="443.0" r="2.2"/>
<circle cx="290.0" cy="445.3" r="2.2"/>
<circle cx="299.0" cy="444.0" r="2.2"/>
<circle cx="301.7" cy="443.3" r="2.2"/>
<circle cx="304.3" cy="442.3" r="2.2"/>
<circle cx="294.3" cy="446.0" r="2.2"/>
<circle cx="295.7" cy="448.7" r="2.2"/>
<circle cx="282.0" cy="447.0" r="2.2"/>
<circle cx="285.3" cy="446.0" r="2.2"/>
<circle cx="286.7" cy="448.3" r="2.2"/>
<circle cx="277.3" cy="449.3" r="2.2"/>
<circle cx="286.0" cy="452.0" r="2.2"/>
<circle cx="286.0" cy="454.0" r="2.2"/>
<circle cx="290.5" cy="453.5" r="2.2"/>
<circle cx="278.7" cy="287.1" r="2.2"/>
<circle cx="281.3" cy="287.2" r="2.2"/>
<circle cx="279.2" cy="288.8" r="2.2"/>
<circle cx="280.9" cy="290.0" r="2.2"/>
<circle cx="278.7" cy="291.6" r="2.2"/>
<circle cx="282.1" cy="292.0" r="2.2"/>
<circle cx="279.4" cy="294.5" r="2.2"/>
<circle cx="281.7" cy="293.9" r="2.2"/>
<circle cx="279.2" cy="297.6" r="2.2"/>
<circle cx="281.5" cy="297.4" r="2.2"/>
<circle cx="279.2" cy="298.8" r="2.2"/>
<circle cx="281.8" cy="299.6" r="2.2"/>
<circle cx="278.8" cy="301.2" r="2.2"/>
<circle cx="281.9" cy="302.0" r="2.2"/>
<circle cx="279.3" cy="305.1" r="2.2"/>
<circle cx="281.8" cy="305.2" r="2.2"/>
<circle cx="278.9" cy="307.5" r="2.2"/>
<circle cx="281.4" cy="307.7" r="2.2"/>
<circle cx="279.5" cy="308.9" r="2.2"/>
<circle cx="281.1" cy="309.0" r="2.2"/>
<circle cx="284.6" cy="309.4" r="2.2"/>
<circle cx="279.2" cy="311.7" r="2.2"/>
<circle cx="281.5" cy="311.8" r="2.2"/>
<circle cx="283.8" cy="312.1" r="2.2"/>
<circle cx="278.8" cy="315.1" r="2.2"/>
<circle cx="280.9" cy="315.2" r="2.2"/>
<circle cx="283.1" cy="315.3" r="2.2"/>
<circle cx="284.9" cy="314.0" r="2.2"/>
<circle cx="278.7" cy="317.2" r="2.2"/>
<circle cx="280.7" cy="316.6" r="2.2"/>
<circle cx="282.5" cy="316.0" r="2.2"/>
<circle cx="284.6" cy="316.6" r="2.2"/>
<circle cx="277.6" cy="317.8" r="2.2"/>
<circle cx="280.2" cy="319.3" r="2.2"/>
<circle cx="281.3" cy="319.0" r="2.2"/>
<circle cx="283.7" cy="317.9" r="2.2"/>
<circle cx="277.1" cy="320.9" r="2.2"/>
<circle cx="279.8" cy="319.8" r="2.2"/>
<circle cx="281.5" cy="319.8" r="2.2"/>
<circle cx="283.6" cy="320.2" r="2.2"/>
<circle cx="285.8" cy="321.3" r="2.2"/>
<circle cx="276.9" cy="323.3" r="2.2"/>
<circle cx="278.7" cy="321.8" r="2.2"/>
<circle cx="281.1" cy="321.8" r="2.2"/>
<circle cx="282.6" cy="322.4" r="2.2"/>
<circle cx="285.1" cy="321.9" r="2.2"/>
<circle cx="275.9" cy="325.1" r="2.2"/>
<circle cx="278.3" cy="325.2" r="2.2"/>
<circle cx="281.0" cy="324.3" r="2.2"/>
<circle cx="282.4" cy="324.5" r="2.2"/>
<circle cx="284.7" cy="324.7" r="2.2"/>
<circle cx="286.6" cy="324.7" r="2.2"/>
<circle cx="276.6" cy="326.5" r="2.2"/>
<circle cx="278.0" cy="326.9" r="2.2"/>
<circle cx="279.7" cy="326.2" r="2.2"/>
<circle cx="282.6" cy="326.5" r="2.2"/>
<circle cx="284.1" cy="325.7" r="2.2"/>
<circle cx="285.9" cy="326.6" r="2.2"/>
<circle cx="275.1" cy="328.7" r="2.2"/>
<circle cx="277.9" cy="327.8" r="2.2"/>
<circle cx="279.9" cy="328.4" r="2.2"/>
<circle cx="281.9" cy="328.3" r="2.2"/>
<circle cx="283.9" cy="328.9" r="2.2"/>
<circle cx="285.1" cy="327.8" r="2.2"/>
<circle cx="275.9" cy="331.2" r="2.2"/>
<circle cx="277.4" cy="330.4" r="2.2"/>
<circle cx="279.8" cy="330.2" r="2.2"/>
<circle cx="281.5" cy="330.2" r="2.2"/>
<circle cx="283.5" cy="330.7" r="2.2"/>
<circle cx="285.5" cy="330.3" r="2.2"/>
<circle cx="276.0" cy="331.7" r="2.2"/>
<circle cx="277.8" cy="332.9" r="2.2"/>
<circle cx="279.5" cy="332.1" r="2.2"/>
<circle cx="282.1" cy="332.1" r="2.2"/>
<circle cx="283.3" cy="332.4" r="2.2"/>
<circle cx="285.9" cy="331.9" r="2.2"/>
<circle cx="287.5" cy="332.2" r="2.2"/>
<circle cx="276.1" cy="334.4" r="2.2"/>
<circle cx="278.1" cy="334.0" r="2.2"/>
<circle cx="279.5" cy="334.7" r="2.2"/>
<circle cx="282.2" cy="334.4" r="2.2"/>
<circle cx="283.4" cy="333.9" r="2.2"/>
<circle cx="285.7" cy="334.0" r="2.2"/>
<circle cx="288.1" cy="335.0" r="2.2"/>
<circle cx="275.3" cy="336.1" r="2.2"/>
<circle cx="278.1" cy="336.7" r="2.2"/>
<circle cx="280.1" cy="336.3" r="2.2"/>
<circle cx="281.3" cy="336.2" r="2.2"/>
<circle cx="284.1" cy="336.1" r="2.2"/>
<circle cx="285.5" cy="336.4" r="2.2"/>
<circle cx="287.6" cy="336.4" r="2.2"/>
<circle cx="276.2" cy="337.9" r="2.2"/>
<circle cx="277.1" cy="339.2" r="2.2"/>
<circle cx="280.2" cy="339.3" r="2.2"/>
<circle cx="281.6" cy="339.2" r="2.2"/>
<circle cx="284.2" cy="338.1" r="2.2"/>
<circle cx="286.0" cy="339.0" r="2.2"/>
<circle cx="275.9" cy="340.5" r="2.2"/>
<circle cx="277.4" cy="340.2" r="2.2"/>
<circle cx="279.4" cy="339.8" r="2.2"/>
<circle cx="281.8" cy="340.2" r="2.2"/>
<circle cx="284.1" cy="339.8" r="2.2"/>
<circle cx="286.2" cy="340.8" r="2.2"/>
<circle cx="276.2" cy="343.1" r="2.2"/>
<circle cx="278.2" cy="342.6" r="2.2"/>
<circle cx="279.1" cy="342.9" r="2.2"/>
<circle cx="281.3" cy="342.2" r="2.2"/>
<circle cx="283.9" cy="342.5" r="2.2"/>
<circle cx="285.6" cy="343.2" r="2.2"/>
<circle cx="275.8" cy="344.2" r="2.2"/>
<circle cx="277.4" cy="345.1" r="2.2"/>
<circle cx="279.7" cy="345.0" r="2.2"/>
<circle cx="281.5" cy="344.0" r="2.2"/>
<circle cx="283.7" cy="345.0" r="2.2"/>
<circle cx="285.3" cy="345.0" r="2.2"/>
<circle cx="276.2" cy="347.0" r="2.2"/>
<circle cx="278.1" cy="345.7" r="2.2"/>
<circle cx="279.9" cy="347.1" r="2.2"/>
<circle cx="281.2" cy="346.1" r="2.2"/>
<circle cx="283.4" cy="346.5" r="2.2"/>
<circle cx="285.6" cy="346.5" r="2.2"/>
<circle cx="276.0" cy="347.7" r="2.2"/>
<circle cx="277.2" cy="347.9" r="2.2"/>
<circle cx="279.2" cy="347.8" r="2.2"/>
<circle cx="282.3" cy="349.1" r="2.2"/>
<circle cx="283.2" cy="348.5" r="2.2"/>
<circle cx="285.5" cy="348.2" r="2.2"/>
<circle cx="275.5" cy="350.7" r="2.2"/>
<circle cx="277.8" cy="350.3" r="2.2"/>
<circle cx="279.3" cy="350.2" r="2.2"/>
<circle cx="281.2" cy="350.6" r="2.2"/>
<circle cx="284.0" cy="350.3" r="2.2"/>
<circle cx="285.2" cy="350.0" r="2.2"/>
<circle cx="275.5" cy="352.7" r="2.2"/>
<circle cx="278.0" cy="352.3" r="2.2"/>
<circle cx="280.1" cy="352.7" r="2.2"/>
<circle cx="281.6" cy="352.3" r="2.2"/>
<circle cx="283.7" cy="352.8" r="2.2"/>
<circle cx="285.6" cy="352.8" r="2.2"/>
<circle cx="275.7" cy="354.1" r="2.2"/>
<circle cx="277.7" cy="354.8" r="2.2"/>
<circle cx="279.2" cy="354.4" r="2.2"/>
<circle cx="281.6" cy="355.1" r="2.2"/>
<circle cx="284.2" cy="354.3" r="2.2"/>
<circle cx="286.2" cy="355.0" r="2.2"/>
<circle cx="275.4" cy="356.4" r="2.2"/>
<circle cx="277.2" cy="357.0" r="2.2"/>
<circle cx="279.9" cy="357.1" r="2.2"/>
<circle cx="282.1" cy="356.8" r="2.2"/>
<circle cx="284.0" cy="356.6" r="2.2"/>
<circle cx="285.2" cy="356.6" r="2.2"/>
<circle cx="275.1" cy="357.9" r="2.2"/>
<circle cx="278.0" cy="357.8" r="2.2"/>
<circle cx="279.2" cy="357.9" r="2.2"/>
<circle cx="282.2" cy="358.0" r="2.2"/>
<circle cx="283.1" cy="359.0" r="2.2"/>
<circle cx="285.2" cy="359.1" r="2.2"/>
<circle cx="275.9" cy="361.0" r="2.2"/>
<circle cx="278.2" cy="360.6" r="2.2"/>
<circle cx="280.1" cy="359.8" r="2.2"/>
<circle cx="282.0" cy="360.5" r="2.2"/>
<circle cx="284.0" cy="359.9" r="2.2"/>
<circle cx="286.0" cy="361.2" r="2.2"/>
<circle cx="275.2" cy="362.2" r="2.2"/>
<circle cx="277.8" cy="363.0" r="2.2"/>
<circle cx="279.4" cy="362.0" r="2.2"/>
<circle cx="281.4" cy="362.7" r="2.2"/>
<circle cx="284.0" cy="362.3" r="2.2"/>
<circle cx="285.5" cy="362.3" r="2.2"/>
<circle cx="275.5" cy="364.4" r="2.2"/>
<circle cx="277.2" cy="364.5" r="2.2"/>
<circle cx="280.3" cy="364.4" r="2.2"/>
<circle cx="282.0" cy="364.0" r="2.2"/>
<circle cx="283.9" cy="364.9" r="2.2"/>
<circle cx="285.9" cy="364.5" r="2.2"/>
<circle cx="275.7" cy="366.7" r="2.2"/>
<circle cx="278.2" cy="365.9" r="2.2"/>
<circle cx="279.2" cy="366.9" r="2.2"/>
<circle cx="282.2" cy="366.5" r="2.2"/>
<circle cx="283.6" cy="366.9" r="2.2"/>
<circle cx="275.3" cy="368.1" r="2.2"/>
<circle cx="277.3" cy="368.6" r="2.2"/>
<circle cx="279.5" cy="368.1" r="2.2"/>
<circle cx="281.9" cy="369.2" r="2.2"/>
<circle cx="283.5" cy="368.8" r="2.2"/>
<circle cx="275.6" cy="371.1" r="2.2"/>
<circle cx="277.8" cy="370.1" r="2.2"/>
<circle cx="279.4" cy="369.7" r="2.2"/>
<circle cx="281.7" cy="370.3" r="2.2"/>
<circle cx="283.3" cy="370.3" r="2.2"/>
<circle cx="275.5" cy="372.9" r="2.2"/>
<circle cx="277.3" cy="373.3" r="2.2"/>
<circle cx="279.7" cy="372.7" r="2.2"/>
<circle cx="281.7" cy="373.0" r="2.2"/>
<circle cx="284.1" cy="372.6" r="2.2"/>
<circle cx="275.7" cy="374.9" r="2.2"/>
<circle cx="278.1" cy="374.3" r="2.2"/>
<circle cx="280.0" cy="375.2" r="2.2"/>
<circle cx="281.7" cy="374.1" r="2.2"/>
<circle cx="283.4" cy="374.8" r="2.2"/>
<circle cx="275.9" cy="377.2" r="2.2"/>
<circle cx="278.1" cy="376.1" r="2.2"/>
<circle cx="279.3" cy="376.1" r="2.2"/>
<circle cx="281.3" cy="376.8" r="2.2"/>
<circle cx="284.1" cy="377.1" r="2.2"/>
<circle cx="275.4" cy="379.1" r="2.2"/>
<circle cx="277.5" cy="378.4" r="2.2"/>
<circle cx="280.0" cy="377.8" r="2.2"/>
<circle cx="281.2" cy="379.0" r="2.2"/>
<circle cx="283.5" cy="378.3" r="2.2"/>
<circle cx="275.8" cy="380.8" r="2.2"/>
<circle cx="277.1" cy="380.2" r="2.2"/>
<circle cx="279.6" cy="380.5" r="2.2"/>
<circle cx="281.4" cy="380.6" r="2.2"/>
<circle cx="284.2" cy="380.3" r="2.2"/>
<circle cx="275.8" cy="381.9" r="2.2"/>
<circle cx="277.4" cy="382.8" r="2.2"/>
<circle cx="279.2" cy="383.1" r="2.2"/>
<circle cx="282.2" cy="381.9" r="2.2"/>
<circle cx="284.2" cy="382.3" r="2.2"/>
<circle cx="276.0" cy="384.9" r="2.2"/>
<circle cx="277.5" cy="384.8" r="2.2"/>
<circle cx="279.9" cy="385.0" r="2.2"/>
<circle cx="281.4" cy="384.9" r="2.2"/>
<circle cx="284.3" cy="384.8" r="2.2"/>
<circle cx="275.7" cy="385.9" r="2.2"/>
<circle cx="277.7" cy="386.3" r="2.2"/>
<circle cx="280.0" cy="386.8" r="2.2"/>
<circle cx="281.8" cy="386.0" r="2.2"/>
<circle cx="283.9" cy="386.7" r="2.2"/>
<circle cx="275.3" cy="389.1" r="2.2"/>
<circle cx="277.9" cy="387.9" r="2.2"/>
<circle cx="280.2" cy="387.9" r="2.2"/>
<circle cx="281.5" cy="388.9" r="2.2"/>
<circle cx="283.8" cy="388.6" r="2.2"/>
<circle cx="275.9" cy="390.4" r="2.2"/>
<circle cx="277.5" cy="390.0" r="2.2"/>
<circle cx="279.2" cy="390.8" r="2.2"/>
<circle cx="282.0" cy="390.6" r="2.2"/>
<circle cx="284.0" cy="390.3" r="2.2"/>
<circle cx="275.4" cy="392.3" r="2.2"/>
<circle cx="278.1" cy="391.8" r="2.2"/>
<circle cx="279.7" cy="392.1" r="2.2"/>
<circle cx="282.0" cy="392.3" r="2.2"/>
<circle cx="283.5" cy="392.3" r="2.2"/>
<circle cx="275.7" cy="394.9" r="2.2"/>
<circle cx="277.5" cy="395.1" r="2.2"/>
<circle cx="279.2" cy="394.1" r="2.2"/>
<circle cx="281.2" cy="393.9" r="2.2"/>
<circle cx="284.0" cy="394.9" r="2.2"/>
<circle cx="275.3" cy="396.0" r="2.2"/>
<circle cx="277.6" cy="396.9" r="2.2"/>
<circle cx="280.1" cy="396.9" r="2.2"/>
<circle cx="281.8" cy="395.9" r="2.2"/>
<circle cx="283.6" cy="396.0" r="2.2"/>
<circle cx="275.7" cy="398.6" r="2.2"/>
<circle cx="277.3" cy="398.1" r="2.2"/>
<circle cx="280.0" cy="397.7" r="2.2"/>
<circle cx="282.1" cy="399.1" r="2.2"/>
<circle cx="284.2" cy="398.3" r="2.2"/>
<circle cx="275.8" cy="400.6" r="2.2"/>
<circle cx="277.9" cy="401.3" r="2.2"/>
<circle cx="279.9" cy="400.2" r="2.2"/>
<circle cx="282.1" cy="400.5" r="2.2"/>
<circle cx="283.8" cy="400.9" r="2.2"/>
<circle cx="275.1" cy="402.9" r="2.2"/>
<circle cx="277.9" cy="402.5" r="2.2"/>
<circle cx="279.7" cy="402.4" r="2.2"/>
<circle cx="281.3" cy="402.5" r="2.2"/>
<circle cx="283.1" cy="402.5" r="2.2"/>
<circle cx="275.9" cy="404.4" r="2.2"/>
<circle cx="277.8" cy="405.2" r="2.2"/>
<circle cx="280.2" cy="403.9" r="2.2"/>
<circle cx="282.1" cy="404.7" r="2.2"/>
<circle cx="283.2" cy="404.3" r="2.2"/>
<circle cx="275.4" cy="405.8" r="2.2"/>
<circle cx="277.7" cy="407.2" r="2.2"/>
<circle cx="279.5" cy="407.1" r="2.2"/>
<circle cx="281.9" cy="405.9" r="2.2"/>
<circle cx="284.1" cy="406.7" r="2.2"/>
<circle cx="276.2" cy="408.8" r="2.2"/>
<circle cx="278.0" cy="408.2" r="2.2"/>
<circle cx="280.1" cy="409.2" r="2.2"/>
<circle cx="282.1" cy="408.4" r="2.2"/>
<circle cx="284.0" cy="408.5" r="2.2"/>
<circle cx="275.2" cy="409.8" r="2.2"/>
<circle cx="277.2" cy="410.0" r="2.2"/>
<circle cx="279.3" cy="410.5" r="2.2"/>
<circle cx="281.9" cy="410.6" r="2.2"/>
<circle cx="283.6" cy="410.7" r="2.2"/>
<circle cx="275.5" cy="412.4" r="2.2"/>
<circle cx="278.0" cy="412.3" r="2.2"/>
<circle cx="279.3" cy="413.1" r="2.2"/>
<circle cx="282.0" cy="412.3" r="2.2"/>
<circle cx="283.5" cy="412.5" r="2.2"/>
<circle cx="275.8" cy="414.1" r="2.2"/>
<circle cx="277.1" cy="414.0" r="2.2"/>
<circle cx="280.0" cy="413.9" r="2.2"/>
<circle cx="281.7" cy="414.0" r="2.2"/>
<circle cx="275.4" cy="416.0" r="2.2"/>
<circle cx="277.6" cy="416.0" r="2.2"/>
<circle cx="279.1" cy="415.9" r="2.2"/>
<circle cx="281.3" cy="416.5" r="2.2"/>
<circle cx="275.2" cy="417.7" r="2.2"/>
<circle cx="277.6" cy="418.4" r="2.2"/>
<circle cx="279.9" cy="417.8" r="2.2"/>
<circle cx="281.6" cy="418.3" r="2.2"/>
<circle cx="275.1" cy="421.2" r="2.2"/>
<circle cx="277.4" cy="419.9" r="2.2"/>
<circle cx="279.7" cy="420.0" r="2.2"/>
<circle cx="281.8" cy="420.3" r="2.2"/>
<circle cx="275.2" cy="421.8" r="2.2"/>
<circle cx="278.0" cy="422.1" r="2.2"/>
<circle cx="280.0" cy="422.4" r="2.2"/>
<circle cx="282.2" cy="422.2" r="2.2"/>
<circle cx="275.4" cy="424.1" r="2.2"/>
<circle cx="278.1" cy="424.7" r="2.2"/>
<circle cx="279.5" cy="423.8" r="2.2"/>
<circle cx="281.9" cy="425.3" r="2.2"/>
<circle cx="275.8" cy="425.7" r="2.2"/>
<circle cx="277.1" cy="425.8" r="2.2"/>
<circle cx="279.3" cy="425.8" r="2.2"/>
<circle cx="275.2" cy="428.7" r="2.2"/>
<circle cx="278.2" cy="428.0" r="2.2"/>
<circle cx="280.3" cy="428.5" r="2.2"/>
<circle cx="276.1" cy="431.2" r="2.2"/>
<circle cx="278.2" cy="429.8" r="2.2"/>
<circle cx="279.5" cy="430.7" r="2.2"/>
<circle cx="276.2" cy="431.8" r="2.2"/>
<circle cx="277.5" cy="433.1" r="2.2"/>
<circle cx="275.2" cy="434.3" r="2.2"/>
<circle cx="277.5" cy="434.8" r="2.2"/>
<circle cx="276.2" cy="436.0" r="2.2"/>
<circle cx="278.0" cy="436.9" r="2.2"/>
</g>
<line x1="275.4" y1="438.40" x2="1008.4" y2="438.40" stroke="#ff0000" stroke-width="2" stroke-dasharray="2 6.333"/>
<circle cx="1008.5" cy="438.40" r="2.5" fill="#0000ff"/>
<text class="tk" x="275.00" y="829.3" text-anchor="middle">0</text>
<text class="tk" x="421.58" y="829.3" text-anchor="middle">0.2</text>
<text class="tk" x="568.16" y="829.3" text-anchor="middle">0.4</text>
<text class="tk" x="714.74" y="829.3" text-anchor="middle">0.6</text>
<text class="tk" x="861.32" y="829.3" text-anchor="middle">0.8</text>
<text class="tk" x="1007.90" y="829.3" text-anchor="middle">1</text>
<text class="tk" x="265.7" y="76.40" text-anchor="end">0.1</text>
<text class="tk" x="265.7" y="149.78" text-anchor="end">0.08</text>
<text class="tk" x="265.7" y="223.16" text-anchor="end">0.06</text>
<text class="tk" x="265.7" y="296.54" text-anchor="end">0.04</text>
<text class="tk" x="265.7" y="369.92" text-anchor="end">0.02</text>
<text class="tk" x="265.7" y="443.30" text-anchor="end">0</text>
<text class="tk" x="265.7" y="516.68" text-anchor="end">-0.02</text>
<text class="tk" x="265.7" y="590.06" text-anchor="end">-0.04</text>
<text class="tk" x="265.7" y="663.44" text-anchor="end">-0.06</text>
<text class="tk" x="265.7" y="736.82" text-anchor="end">-0.08</text>
<text class="tk" x="265.7" y="810.20" text-anchor="end">-0.1</text>
<text class="tt" x="641.3" y="60" text-anchor="middle">tail</text>
<text class="lb" x="640.5" y="856.7" text-anchor="middle">full</text>
<text class="lb" transform="translate(205.8 438.9) rotate(-90)" text-anchor="middle">accel-full</text>
</svg></body></html>
